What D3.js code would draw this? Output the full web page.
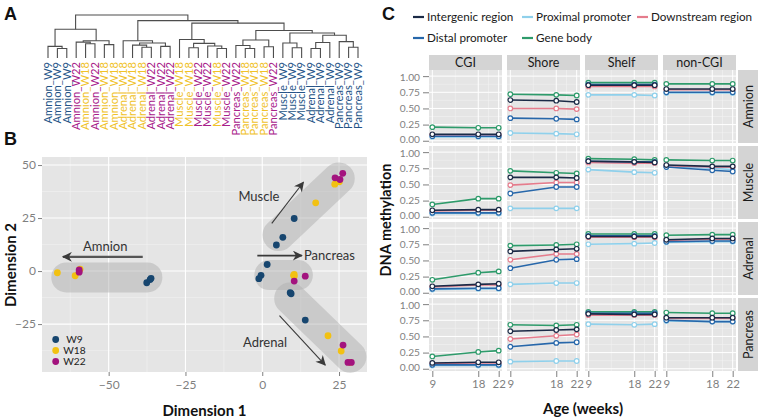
<!DOCTYPE html>
<html><head><meta charset="utf-8">
<script src="https://cdn.jsdelivr.net/npm/d3@7"></script>
<style>
body{margin:0;background:#fff;}
svg{display:block;font-family:Lato,"Open Sans",sans-serif;}
</style></head><body>
<svg id="fig" width="758" height="420"></svg>
<script>
// ---------------- DATA ----------------
// Panel A: dendrogram leaves (left to right) and merges [left, right, height]
// negative = leaf (-(index+1)), positive = merge row (1-based)
const leafLabels = ["Amnion_W9","Amnion_W9","Amnion_W9","Amnion_W22","Amnion_W18","Amnion_W22","Amnion_W18","Amnion_W18",
  "Adrenal_W18","Adrenal_W18","Adrenal_W18","Adrenal_W22","Adrenal_W22","Adrenal_W22",
  "Muscle_W18","Muscle_W18","Muscle_W22","Muscle_W22","Muscle_W18","Muscle_W22",
  "Pancreas_W22","Pancreas_W18","Pancreas_W18","Pancreas_W18","Pancreas_W22",
  "Muscle_W9","Muscle_W9","Muscle_W9","Adrenal_W9","Adrenal_W9","Adrenal_W9","Pancreas_W9","Pancreas_W9","Pancreas_W9"];
const dendroMerges = [
  [-2,-3,0.22],[-1,1,0.27],[-5,-6,0.33],[-4,3,0.37],[-7,-8,0.31],[4,5,0.40],[2,6,0.67],
  [-11,-12,0.25],[-10,8,0.30],[-13,-14,0.27],[9,10,0.35],[-9,11,0.40],
  [-16,-17,0.24],[-19,-20,0.22],[-18,14,0.28],[13,15,0.34],[-15,16,0.43],
  [-22,-23,0.22],[-21,18,0.29],[-24,-25,0.26],[19,20,0.42],
  [-27,-28,0.24],[-26,22,0.35],[-29,-30,0.22],[24,-31,0.36],[-33,-34,0.25],[-32,26,0.38],
  [25,27,0.53],[23,28,0.58],[21,29,0.64],[17,30,0.81],[12,31,0.87],[7,32,1.00]
];

// Panel B: MDS coordinates
const mdsDim1 = [-37.6,-36.5,-36.2,-66.7,-60.9,-59.3,-59.6,-59.6,
  4.6,6.7,10.4,17.4,23.6,25.1,23.7,25.3,26.2,
  1.6,-0.4,-1.1,10.4,10.4,10.2,10.4,14.0,
  9.1,9.4,14.0,21.4,25.7,28.6,26.3,27.9,29.0];
const mdsDim2 = [-5.5,-4.0,-3.4,-0.8,-2.2,0.9,0.5,-0.5,
  12.3,15.9,24.8,32.2,41.0,42.1,44.0,43.2,46.1,
  3.1,-2.0,-3.6,-1.6,-2.5,-2.0,-4.7,-2.4,
  -10.2,-10.7,-23.1,-30.5,-37.7,-43.1,-34.9,-43.1,-43.1];
const mdsAge = ["W9","W9","W9","W18","W18","W18","W22","W22",
  "W9","W9","W9","W18","W18","W18","W22","W22","W22",
  "W9","W9","W9","W18","W18","W18","W22","W22",
  "W9","W9","W9","W18","W18","W18","W22","W22","W22"];
const ageGroups = ["W9","W18","W22"];
const clusterNames = ["Amnion","Muscle","Pancreas","Adrenal"];
const clusterAxis = [[-63.8,-3.0,-37.4,-3.0],[5.3,17.0,24.9,43.7],[2.3,-1.9,11.6,-1.9],[9.1,-12.9,28.7,-40.4]];
const arrowPaths = [[-38.9,6.7,-64.9,6.7],[3.1,22.5,13.4,41.9],[-1.6,7.3,12.9,7.3],[5.6,-21.0,20.5,-44.3]];
const arrowLabelPos = [[-51.1,11.5],[-1.1,35.0],[13.6,7.3],[0.9,-33.8]];
const bXTicks = [-50,-25,0,25];
const bYTicks = [-25,0,25,50];

// Panel C: DNA methylation [tissue][context][age]
const tissues = ["Amnion","Muscle","Adrenal","Pancreas"];
const contexts = ["CGI","Shore","Shelf","non-CGI"];
const ages = [9,18,22];
const regionNames = ["Intergenic region","Proximal promoter","Downstream region","Distal promoter","Gene body"];
const intergenic = [
  [[0.10,0.10,0.10],[0.63,0.62,0.60],[0.86,0.86,0.86],[0.80,0.80,0.80]],
  [[0.10,0.11,0.11],[0.61,0.61,0.60],[0.86,0.85,0.84],[0.80,0.78,0.78]],
  [[0.10,0.13,0.14],[0.64,0.67,0.68],[0.87,0.87,0.87],[0.82,0.84,0.84]],
  [[0.09,0.10,0.10],[0.58,0.60,0.61],[0.85,0.84,0.84],[0.79,0.79,0.79]]];
const proximal = [
  [[0.06,0.06,0.06],[0.12,0.11,0.10],[0.71,0.71,0.70],[0.74,0.74,0.74]],
  [[0.05,0.05,0.05],[0.13,0.13,0.13],[0.73,0.69,0.68],[0.77,0.75,0.73]],
  [[0.05,0.06,0.06],[0.13,0.15,0.15],[0.75,0.76,0.77],[0.78,0.79,0.79]],
  [[0.05,0.05,0.05],[0.11,0.12,0.12],[0.69,0.68,0.69],[0.74,0.73,0.73]]];
const downstream = [
  [[0.09,0.09,0.09],[0.50,0.50,0.49],[0.84,0.84,0.84],[0.79,0.79,0.79]],
  [[0.09,0.10,0.10],[0.49,0.53,0.53],[0.84,0.83,0.83],[0.79,0.77,0.77]],
  [[0.09,0.12,0.12],[0.51,0.60,0.60],[0.86,0.86,0.86],[0.81,0.83,0.83]],
  [[0.08,0.09,0.09],[0.46,0.51,0.53],[0.83,0.83,0.83],[0.78,0.78,0.78]]];
const distal = [
  [[0.07,0.07,0.07],[0.35,0.34,0.33],[0.87,0.87,0.87],[0.75,0.75,0.75]],
  [[0.06,0.06,0.06],[0.36,0.46,0.46],[0.86,0.85,0.85],[0.77,0.72,0.70]],
  [[0.06,0.07,0.07],[0.38,0.51,0.52],[0.88,0.88,0.88],[0.79,0.80,0.80]],
  [[0.06,0.06,0.06],[0.34,0.40,0.41],[0.86,0.86,0.86],[0.75,0.73,0.73]]];
const geneBody = [
  [[0.21,0.20,0.20],[0.72,0.71,0.70],[0.90,0.90,0.90],[0.88,0.88,0.88]],
  [[0.19,0.28,0.28],[0.71,0.68,0.67],[0.90,0.89,0.88],[0.88,0.87,0.87]],
  [[0.20,0.31,0.33],[0.73,0.74,0.75],[0.91,0.91,0.91],[0.89,0.90,0.90]],
  [[0.19,0.26,0.28],[0.68,0.67,0.68],[0.88,0.88,0.88],[0.87,0.86,0.86]]];
const cYTicks = [0,0.25,0.5,0.75,1];

// ---------------- STYLE ----------------
const ageColor = {W9:"#17466F", W18:"#F2C112", W22:"#A3137E"};
const labelColor = {W9:"#245487", W18:"#F0C229", W22:"#A8208A"};
const regionColor = {"Intergenic region":"#1B2A46","Proximal promoter":"#8FD0EB","Downstream region":"#E57C8C","Distal promoter":"#2767AA","Gene body":"#2E9B6B"};
const regionValues = {"Intergenic region":intergenic,"Proximal promoter":proximal,"Downstream region":downstream,"Distal promoter":distal,"Gene body":geneBody};
const drawOrder = ["Gene body","Proximal promoter","Downstream region","Distal promoter","Intergenic region"];
const grayText = "#7F7F7F";

const svg = d3.select("#fig");

// panel letters
[["A",4,20],["B",4,145],["C",382,20]].forEach(([t,x,y]) =>
  svg.append("text").attr("x",x).attr("y",y).attr("font-family","'Liberation Sans',Arial,sans-serif")
    .attr("font-weight","bold").attr("font-size",18).attr("fill","#111").text(t));

// ---------------- PANEL A ----------------
const hx = d3.scaleLinear().domain([0, leafLabels.length-1]).range([48, 358]);
const hy = d3.scaleLinear().domain([0, 1]).range([58, 15]);
const gA = svg.append("g");
const nodePos = [];
const posOf = ref => ref < 0 ? {x: hx(-ref-1), y: hy(0)} : nodePos[ref-1];
dendroMerges.forEach(([a,b,h]) => {
  const pa = posOf(a), pb = posOf(b);
  const n = {x:(pa.x+pb.x)/2, y:hy(h)};
  nodePos.push(n);
  gA.append("path").attr("d",`M${pa.x},${pa.y}V${n.y}H${pb.x}V${pb.y}`)
    .attr("fill","none").attr("stroke","#4d4d4d").attr("stroke-width",1.1);
});
gA.selectAll("text.leaf").data(leafLabels).join("text").attr("class","leaf")
  .attr("transform",(d,i)=>`translate(${hx(i)+3.8},62) rotate(-90)`)
  .attr("text-anchor","end").attr("font-size",11.2)
  .attr("fill",d=>labelColor[d.split("_")[1]]).text(d=>d);

// ---------------- PANEL B ----------------
const bx = d3.scaleLinear().domain([-71.7, 34.1]).range([42, 367]);
const by = d3.scaleLinear().domain([-47.6, 53.8]).range([372, 157]);
const gB = svg.append("g");
gB.append("rect").attr("x",42).attr("y",157).attr("width",325).attr("height",215).attr("fill","#E5E5E5");
const bxMinor = [-62.5,-37.5,-12.5,12.5], byMinor = [-37.5,-12.5,12.5,37.5];
bxMinor.forEach(v=>gB.append("line").attr("x1",bx(v)).attr("x2",bx(v)).attr("y1",157).attr("y2",372).attr("stroke","#F2F2F2").attr("stroke-width",0.6));
byMinor.forEach(v=>gB.append("line").attr("y1",by(v)).attr("y2",by(v)).attr("x1",42).attr("x2",367).attr("stroke","#F2F2F2").attr("stroke-width",0.6));
bXTicks.forEach(v=>gB.append("line").attr("x1",bx(v)).attr("x2",bx(v)).attr("y1",157).attr("y2",372).attr("stroke","#fff").attr("stroke-width",1.1));
bYTicks.forEach(v=>gB.append("line").attr("y1",by(v)).attr("y2",by(v)).attr("x1",42).attr("x2",367).attr("stroke","#fff").attr("stroke-width",1.1));

// clusters
clusterAxis.forEach((c,i)=>gB.append("line").attr("x1",bx(c[0])).attr("y1",by(c[1])).attr("x2",bx(c[2])).attr("y2",by(c[3]))
  .attr("stroke","#B0B0B0").attr("stroke-opacity",0.5).attr("stroke-width",i===0||i===2?30:32).attr("stroke-linecap","round"));

// arrows
const defs = svg.append("defs");
defs.append("marker").attr("id","ah").attr("viewBox","0 0 10 10").attr("refX",9).attr("refY",5)
  .attr("markerWidth",11).attr("markerHeight",10).attr("markerUnits","userSpaceOnUse").attr("orient","auto")
  .append("path").attr("d","M0,0L10,5L0,10L3,5Z").attr("fill","#3a3a3a");
arrowPaths.forEach((a,i)=>gB.append("line").attr("x1",bx(a[0])).attr("y1",by(a[1])).attr("x2",bx(a[2])).attr("y2",by(a[3]))
  .attr("stroke",i===0?"#555":"#3a3a3a").attr("stroke-width",i===0?2.4:(i===2?1.8:1.1)).attr("marker-end","url(#ah)"));
clusterNames.forEach((n,i)=>gB.append("text").attr("x",bx(arrowLabelPos[i][0])).attr("y",by(arrowLabelPos[i][1]))
  .attr("dy","0.35em").attr("text-anchor",i===2?"start":"middle").attr("font-size",13).attr("fill","#333").text(n));

// points
const ptIdx = d3.range(mdsDim1.length).sort((a,b)=>ageGroups.indexOf(mdsAge[a])-ageGroups.indexOf(mdsAge[b]));
gB.selectAll("circle.pt").data(ptIdx).join("circle").attr("class","pt")
  .attr("cx",i=>bx(mdsDim1[i])).attr("cy",i=>by(mdsDim2[i])).attr("r",3.4).attr("fill",i=>ageColor[mdsAge[i]]);

// legend
ageGroups.forEach((a,i)=>{
  const y = 339.5 + i*11;
  gB.append("circle").attr("cx",55.7).attr("cy",y).attr("r",3.4).attr("fill",ageColor[a]);
  gB.append("text").attr("x",74.5).attr("y",y).attr("dy","0.36em").attr("text-anchor","middle").attr("font-size",10.2).attr("fill","#222").text(a);
});

// axes
const axB1 = gB.append("g").attr("transform","translate(0,372)").call(d3.axisBottom(bx).tickValues(bXTicks).tickSize(4).tickPadding(4));
const axB2 = gB.append("g").attr("transform","translate(42,0)").call(d3.axisLeft(by).tickValues(bYTicks).tickSize(4).tickPadding(2));
[axB1,axB2].forEach(ax=>{ax.select(".domain").remove(); ax.selectAll("line").attr("stroke",grayText);
  ax.selectAll("text").attr("fill",grayText).attr("font-size",12).attr("font-family","Lato,sans-serif");});
gB.append("text").attr("x",204.5).attr("y",416).attr("text-anchor","middle").attr("font-weight","bold").attr("font-size",15).attr("fill","#111").text("Dimension 1");
gB.append("text").attr("transform","translate(16,265) rotate(-90)").attr("text-anchor","middle").attr("font-weight","bold").attr("font-size",15).attr("fill","#111").text("Dimension 2");

// ---------------- PANEL C ----------------
const cColX = 429, cColStep = 78, cW = 73, cRowY = 70, cRowStep = 76, cH = 73;
const cx = d3.scaleLinear().domain([8.35, 22.65]).range([0, cW]);
const cy = d3.scaleLinear().domain([-0.035, 1.095]).range([cH, 0]);
const gC = svg.append("g");
const line = d3.line().x(d=>cx(d[0])).y(d=>cy(d[1]));
tissues.forEach((t,r)=>{
  contexts.forEach((c,k)=>{
    const g = gC.append("g").attr("transform",`translate(${cColX+k*cColStep},${cRowY+r*cRowStep})`);
    g.append("rect").attr("width",cW).attr("height",cH).attr("fill","#E5E5E5");
    [0.125,0.375,0.625,0.875].forEach(v=>g.append("line").attr("x1",0).attr("x2",cW).attr("y1",cy(v)).attr("y2",cy(v)).attr("stroke","#F2F2F2").attr("stroke-width",0.6));
    [13.5,20].forEach(v=>g.append("line").attr("y1",0).attr("y2",cH).attr("x1",cx(v)).attr("x2",cx(v)).attr("stroke","#F2F2F2").attr("stroke-width",0.6));
    cYTicks.forEach(v=>g.append("line").attr("x1",0).attr("x2",cW).attr("y1",cy(v)).attr("y2",cy(v)).attr("stroke","#fff").attr("stroke-width",1));
    ages.forEach(v=>g.append("line").attr("y1",0).attr("y2",cH).attr("x1",cx(v)).attr("x2",cx(v)).attr("stroke","#fff").attr("stroke-width",1));
    drawOrder.forEach(name=>{
      const vals = regionValues[name][r][k];
      const pts = ages.map((a,i)=>[a, vals[i]]);
      g.append("path").datum(pts).attr("d",line).attr("fill","none").attr("stroke",regionColor[name]).attr("stroke-width",1.6);
      g.selectAll(null).data(pts).join("circle").attr("cx",d=>cx(d[0])).attr("cy",d=>cy(d[1])).attr("r",2.3)
        .attr("fill","#fff").attr("stroke",regionColor[name]).attr("stroke-width",1.2);
    });
    if(k===0){
      const ax = g.append("g").call(d3.axisLeft(cy).tickValues(cYTicks).tickFormat(d3.format(".2f")).tickSize(6).tickPadding(3));
      ax.select(".domain").remove(); ax.selectAll("line").attr("stroke",grayText);
      ax.selectAll("text").attr("fill",grayText).attr("font-size",10.2).attr("font-family","Lato,sans-serif")
        .attr("dy",d=>d===0?"0.22em":(d===1?"0.42em":"0.32em"));
    }
    if(r===tissues.length-1){
      const ax = g.append("g").attr("transform",`translate(0,${cH})`).call(d3.axisBottom(cx).tickValues(ages).tickSize(6).tickPadding(3));
      ax.select(".domain").remove(); ax.selectAll("line").attr("stroke",grayText);
      ax.selectAll("text").attr("fill",grayText).attr("font-size",11.5).attr("font-family","Lato,sans-serif");
    }
    if(r===0){
      g.append("rect").attr("y",-15).attr("width",cW).attr("height",15).attr("fill","#D4D4D4");
      g.append("text").attr("x",cW/2).attr("y",-7.5).attr("dy","0.36em").attr("text-anchor","middle").attr("font-size",12.5).attr("fill","#1a1a1a").text(c);
    }
    if(k===contexts.length-1){
      g.append("rect").attr("x",cW+2).attr("width",21).attr("height",cH).attr("fill","#D4D4D4");
      g.append("text").attr("transform",`translate(${cW+12.5},${cH/2}) rotate(-90)`).attr("dy","0.36em").attr("text-anchor","middle").attr("font-size",12.5).attr("fill","#1a1a1a").text(t);
    }
  });
});
gC.append("text").attr("transform","translate(391,220) rotate(-90)").attr("text-anchor","middle").attr("font-weight","bold").attr("font-size",14.5).attr("fill","#111").text("DNA methylation");
gC.append("text").attr("x",583).attr("y",414).attr("text-anchor","middle").attr("font-weight","bold").attr("font-size",15).attr("fill","#111").text("Age (weeks)");

// legend C
const legPos = [[413,17],[522,17],[637,17],[413,38],[522,38]];
regionNames.forEach((n,i)=>{
  const [x,y] = legPos[i];
  gC.append("line").attr("x1",x).attr("x2",x+11).attr("y1",y).attr("y2",y).attr("stroke",regionColor[n]).attr("stroke-width",2.2);
  gC.append("text").attr("x",x+14).attr("y",y).attr("dy","0.36em").attr("font-size",11.7).attr("fill","#1a1a1a").text(n);
});
</script>
</body></html>
